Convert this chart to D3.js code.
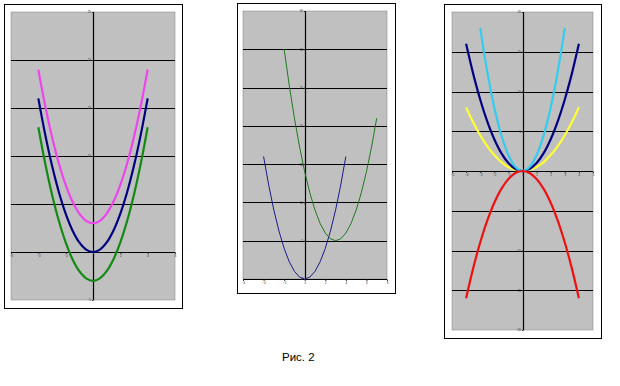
<!DOCTYPE html>
<html>
<head>
<meta charset="utf-8">
<script src="https://cdn.jsdelivr.net/npm/d3@7"></script>
<style>
  body { margin: 0; background: #fff; }
  text { font-family: "Liberation Sans", Arial, sans-serif; }
</style>
</head>
<body>
<div id="chart"></div>
<script>
// values (x, y = x^2 family)
var xs1 = [-4, -3.5, -3, -2.5, -2, -1.5, -1, -0.5, 0, 0.5, 1, 1.5, 2, 2.5, 3, 3.5, 4];
var p1Up = [19, 15.25, 12, 9.25, 7, 5.25, 4, 3.25, 3, 3.25, 4, 5.25, 7, 9.25, 12, 15.25, 19];
var p1Mid = [16, 12.25, 9, 6.25, 4, 2.25, 1, 0.25, 0, 0.25, 1, 2.25, 4, 6.25, 9, 12.25, 16];
var p1Down = [13, 9.25, 6, 3.25, 1, -0.75, -2, -2.75, -3, -2.75, -2, -0.75, 1, 3.25, 6, 9.25, 13];

var xs2b = [-2, -1.5, -1, -0.5, 0, 0.5, 1, 1.5, 2, 2.5, 3, 3.5, 4, 4.5, 5, 5.5, 6, 6.5, 7];
var p2Green = [30, 25.25, 21, 17.25, 14, 11.25, 9, 7.25, 6, 5.25, 5, 5.25, 6, 7.25, 9, 11.25, 14, 17.25, 21];

var xs3c = [-3, -2.5, -2, -1.5, -1, -0.5, 0, 0.5, 1, 1.5, 2, 2.5, 3];
var p3Cyan = [18, 12.5, 8, 4.5, 2, 0.5, 0, 0.5, 2, 4.5, 8, 12.5, 18];
var p3Yellow = [8, 6.125, 4.5, 3.125, 2, 1.125, 0.5, 0.125, 0, 0.125, 0.5, 1.125, 2, 3.125, 4.5, 6.125, 8];
var p3Red = [-16, -12.25, -9, -6.25, -4, -2.25, -1, -0.25, 0, -0.25, -1, -2.25, -4, -6.25, -9, -12.25, -16];

var ticks1x = [-6, -4, -2, 0, 2, 4, 6], ticks1y = [-5, 0, 5, 10, 15, 20, 25];
var ticks2x = [-6, -4, -2, 0, 2, 4, 6, 8], ticks2y = [0, 5, 10, 15, 20, 25, 30, 35];
var ticks3x = [-5, -4, -3, -2, -1, 0, 1, 2, 3, 4, 5], ticks3y = [-20, -15, -10, -5, 0, 5, 10, 15, 20];

var svg = d3.select("#chart").append("svg")
  .attr("width", 620)
  .attr("height", 386);

function zip(xs, ys) {
  return xs.map(function(x, i) { return [x, ys[i]]; });
}

function drawPanel(p) {
  svg.append("rect")
    .attr("x", p.frame[0] + 0.5).attr("y", p.frame[1] + 0.5)
    .attr("width", p.frame[2] - p.frame[0]).attr("height", p.frame[3] - p.frame[1])
    .attr("fill", "#fff").attr("stroke", "#000");

  var x = d3.scaleLinear().domain(p.xd).range([p.plot[0], p.plot[2]]);
  var y = d3.scaleLinear().domain(p.yd).range([p.plot[3], p.plot[1]]);

  var g = svg.append("g");
  g.append("rect")
    .attr("x", p.plot[0]).attr("y", p.plot[1])
    .attr("width", p.plot[2] - p.plot[0]).attr("height", p.plot[3] - p.plot[1])
    .attr("fill", "#c0c0c0").attr("stroke", "#808080").attr("stroke-width", 0.5);

  // gridlines
  g.selectAll(".grid").data(p.yt.slice(1, -1)).enter().append("line")
    .attr("x1", p.plot[0]).attr("x2", p.plot[2])
    .attr("y1", function(d) { return Math.round(y(d)) + 0.5; })
    .attr("y2", function(d) { return Math.round(y(d)) + 0.5; })
    .attr("stroke", "#000").attr("stroke-width", 1.2);

  // x axis at y=0 (panel 2: bottom edge)
  var y0 = Math.round(y(0)) + 0.5;
  g.append("line")
    .attr("x1", p.plot[0]).attr("x2", p.plot[2]).attr("y1", y0).attr("y2", y0)
    .attr("stroke", "#000").attr("stroke-width", 1.2);
  var x0 = Math.round(x(0)) + 0.5;
  g.append("line")
    .attr("x1", x0).attr("x2", x0).attr("y1", p.plot[1]).attr("y2", p.plot[3])
    .attr("stroke", "#000").attr("stroke-width", 1.2);

  // tiny tick labels
  g.append("g")
    .attr("transform", "translate(0," + y0 + ")")
    .call(d3.axisBottom(x).tickValues(p.xt).tickSize(1.5).tickPadding(1))
    .call(function(a) {
      a.select(".domain").remove();
      a.selectAll("line").attr("stroke", "#333");
      a.selectAll("text").attr("font-size", 3).attr("fill", "#333");
    });
  g.append("g")
    .attr("transform", "translate(" + x0 + ",0)")
    .call(d3.axisLeft(y).tickValues(p.yt).tickSize(1.5).tickPadding(1))
    .call(function(a) {
      a.select(".domain").remove();
      a.selectAll("line").attr("stroke", "#333");
      a.selectAll("text").attr("font-size", 3).attr("fill", "#333");
    });

  p.series.forEach(function(s) {
    var line = d3.line()
      .x(function(d) { return x(d[0]); })
      .y(function(d) { return y(d[1]); })
      .curve(s.curve || d3.curveCatmullRom);
    g.append("path")
      .datum(zip(s.xs, s.ys))
      .attr("d", line)
      .attr("fill", "none")
      .attr("stroke", s.color)
      .attr("stroke-width", s.w);
  });
}

drawPanel({
  frame: [4, 4, 182, 308], plot: [11, 12, 175, 300],
  xd: [-6, 6], yd: [-5, 25], xt: ticks1x, yt: ticks1y,
  series: [
    { xs: xs1, ys: p1Up, color: "#ee44ee", w: 2.2 },
    { xs: xs1, ys: p1Mid, color: "#000080", w: 2.2 },
    { xs: xs1, ys: p1Down, color: "#138a13", w: 2.2 }
  ]
});

drawPanel({
  frame: [237, 3, 395, 293], plot: [243, 11, 387, 279],
  xd: [-6, 8], yd: [0, 35], xt: ticks2x, yt: ticks2y,
  series: [
    { xs: xs1, ys: p1Mid, color: "#1a1a8c", w: 1, curve: d3.curveLinear },
    { xs: xs2b, ys: p2Green, color: "#1f7a1f", w: 1, curve: d3.curveLinear }
  ]
});

drawPanel({
  frame: [444, 4, 601, 338], plot: [452, 12, 593, 330],
  xd: [-5, 5], yd: [-20, 20], xt: ticks3x, yt: ticks3y,
  series: [
    { xs: xs1, ys: p3Yellow, color: "#ffff33", w: 2.2 },
    { xs: xs1, ys: p1Mid, color: "#000080", w: 2.2 },
    { xs: xs3c, ys: p3Cyan, color: "#33ccee", w: 2.2 },
    { xs: xs1, ys: p3Red, color: "#ee1111", w: 2.2 }
  ]
});

svg.append("text")
  .attr("x", 282).attr("y", 361)
  .attr("font-size", 11.5).attr("fill", "#000")
  .text("Рис. 2");
</script>
</body>
</html>
